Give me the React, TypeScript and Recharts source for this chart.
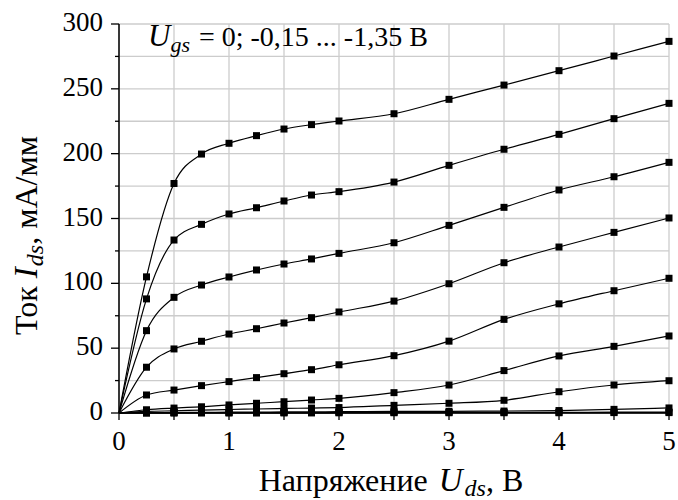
import React from 'react';
import { LineChart, Line, XAxis, YAxis, CartesianGrid, Label } from 'recharts';

// Drain voltage, V
const uds = [0, 0.25, 0.5, 0.75, 1, 1.25, 1.5, 1.75, 2, 2.5, 3, 3.5, 4, 4.5, 5];

// Drain current, mA/mm, one array per gate voltage
const ugs0 = [0, 105, 177, 199.7, 208, 213.9, 219, 222.4, 225.2, 230.8, 241.9, 252.9, 264, 275.3, 286.6];
const ugs015 = [0, 88, 133.4, 145.5, 153.5, 158.3, 163.5, 168.1, 170.7, 178.1, 191, 203.4, 214.9, 227, 238.8];
const ugs030 = [0, 63.5, 89.2, 98.7, 104.9, 110.3, 114.9, 118.8, 123.1, 131.3, 144.7, 158.6, 172, 182.2, 193.3];
const ugs045 = [0, 35.3, 49.4, 55.3, 60.9, 65, 69.4, 73.5, 77.9, 86.3, 99.7, 115.9, 128, 139.3, 150.4];
const ugs060 = [0, 13.9, 17.7, 21.1, 24.2, 27.3, 30.3, 33.4, 37.2, 44.2, 55.4, 72.2, 84.2, 94.3, 103.9];
const ugs075 = [0, 2.5, 3.8, 4.8, 6.2, 7.5, 8.7, 10, 11.3, 15.7, 21.6, 32.7, 44, 51.4, 59.4];
const ugs090 = [0, 1.2, 1.7, 2.2, 2.7, 3.1, 3.5, 3.8, 4.2, 5.9, 7.5, 9.8, 16.4, 21.6, 24.9];
const ugs105 = [0, 0.3, 0.4, 0.5, 0.6, 0.7, 0.8, 0.9, 1, 1.2, 1.3, 1.5, 1.9, 2.8, 3.9];
const ugs120 = [0, 0.1, 0.1, 0.2, 0.2, 0.2, 0.3, 0.3, 0.3, 0.4, 0.4, 0.5, 0.5, 0.6, 0.7];
const ugs135 = [0, 0, 0.1, 0.1, 0.1, 0.1, 0.1, 0.1, 0.2, 0.2, 0.2, 0.2, 0.2, 0.3, 0.3];

const seriesList = [ugs0, ugs015, ugs030, ugs045, ugs060, ugs075, ugs090, ugs105, ugs120, ugs135];

const xTicks = [0, 0.5, 1, 1.5, 2, 2.5, 3, 3.5, 4, 4.5, 5];
const yTicks = [0, 25, 50, 75, 100, 125, 150, 175, 200, 225, 250, 275, 300];

const data = uds.map((u, i) => {
  const row: Record<string, number> = { u };
  seriesList.forEach((s, k) => {
    row['s' + k] = s[i];
  });
  return row;
});

const SERIF = 'Liberation Serif';
const Y_TICK_SIZE = 8;
const Y_TICK_MARGIN = 8;

const YTick = (props: any) => {
  const { x, y, payload } = props;
  const major = payload.value % 50 === 0;
  const axisX = x + Y_TICK_SIZE + Y_TICK_MARGIN;
  return (
    <g>
      <line x1={axisX - (major ? 8 : 4)} x2={axisX} y1={y} y2={y} stroke="#000" strokeWidth={1.3} />
      {major && (
        <text x={x} y={y} dy="0.26em" textAnchor="end" fontFamily={SERIF} fontSize={27} fill="#000">
          {payload.value}
        </text>
      )}
    </g>
  );
};

const XTick = (props: any) => {
  const { x, y, payload } = props;
  if (!Number.isInteger(payload.value)) return <g />;
  return (
    <text x={x} y={y} dy="0.71em" textAnchor="middle" fontFamily={SERIF} fontSize={27} fill="#000">
      {payload.value}
    </text>
  );
};

const SquareDot = (props: any) => {
  const { cx, cy, index } = props;
  if (index === 0 || cx == null || cy == null) return <g key={index} />;
  return <rect key={index} x={cx - 3.5} y={cy - 3.5} width={7} height={7} fill="#000" />;
};

const XTitle = (props: any) => {
  const { viewBox } = props;
  const cx = viewBox.x + viewBox.width / 2;
  return (
    <text x={cx - 3} y={viewBox.y + 78} textAnchor="middle" fontFamily={SERIF} fontSize={32} fill="#000">
      Напряжение <tspan fontStyle="italic" fontSize={33} dx={3}>U</tspan>
      <tspan fontStyle="italic" fontSize={24} dy={5} dx={2}>ds</tspan>
      <tspan dy={-5}>, В</tspan>
    </text>
  );
};

const YTitle = (props: any) => {
  const { viewBox } = props;
  const cy = viewBox.y + viewBox.height / 2 + 17;
  const x = 37;
  return (
    <text x={x} y={cy} transform={`rotate(-90 ${x} ${cy})`} textAnchor="middle" fontFamily={SERIF} fontSize={32} fill="#000">
      Ток <tspan fontStyle="italic" fontSize={33}>I</tspan>
      <tspan fontStyle="italic" fontSize={24} dy={6} dx={1}>ds</tspan>
      <tspan dy={-6}>, мА/мм</tspan>
    </text>
  );
};

export default function App() {
  return (
    <div style={{ position: 'absolute', left: 0, top: 0, width: 678, height: 500, background: '#fff' }}>
      <LineChart width={678} height={500} data={data} margin={{ top: 24, right: 9, left: 0, bottom: 0 }}>
        <CartesianGrid stroke="#cccccc" strokeWidth={1.3} vertical horizontal />
        <XAxis
          dataKey="u"
          type="number"
          domain={[0, 5]}
          ticks={xTicks}
          interval={0}
          height={87}
          tickSize={7}
          tickMargin={11}
          tick={<XTick />}
          axisLine={{ stroke: '#000', strokeWidth: 1.5 }}
          tickLine={{ stroke: '#000', strokeWidth: 1.3 }}
        >
          <Label content={<XTitle />} />
        </XAxis>
        <YAxis
          type="number"
          domain={[0, 300]}
          ticks={yTicks}
          interval={0}
          width={119}
          tickSize={Y_TICK_SIZE}
          tickMargin={Y_TICK_MARGIN}
          tick={<YTick />}
          tickLine={false}
          axisLine={{ stroke: '#000', strokeWidth: 1.5 }}
        >
          <Label content={<YTitle />} />
        </YAxis>
        {seriesList.map((_, k) => (
          <Line
            key={k}
            type="monotone"
            dataKey={'s' + k}
            stroke="#000"
            strokeWidth={1.2}
            dot={<SquareDot />}
            activeDot={false}
            isAnimationActive={false}
          />
        ))}
      </LineChart>
      {/* gate voltage note on top of the plot */}
      <svg width={678} height={70} style={{ position: 'absolute', left: 0, top: 0, pointerEvents: 'none' }}>
        <text x={148} y={46} fontFamily={SERIF} fontSize={28} fill="#000">
          <tspan fontStyle="italic" fontSize={31}>U</tspan>
          <tspan fontStyle="italic" fontSize={22} dy={6}>gs</tspan>
          <tspan dy={-6} dx={2}> = 0; -0,15 ... -1,35 В</tspan>
        </text>
      </svg>
    </div>
  );
}
